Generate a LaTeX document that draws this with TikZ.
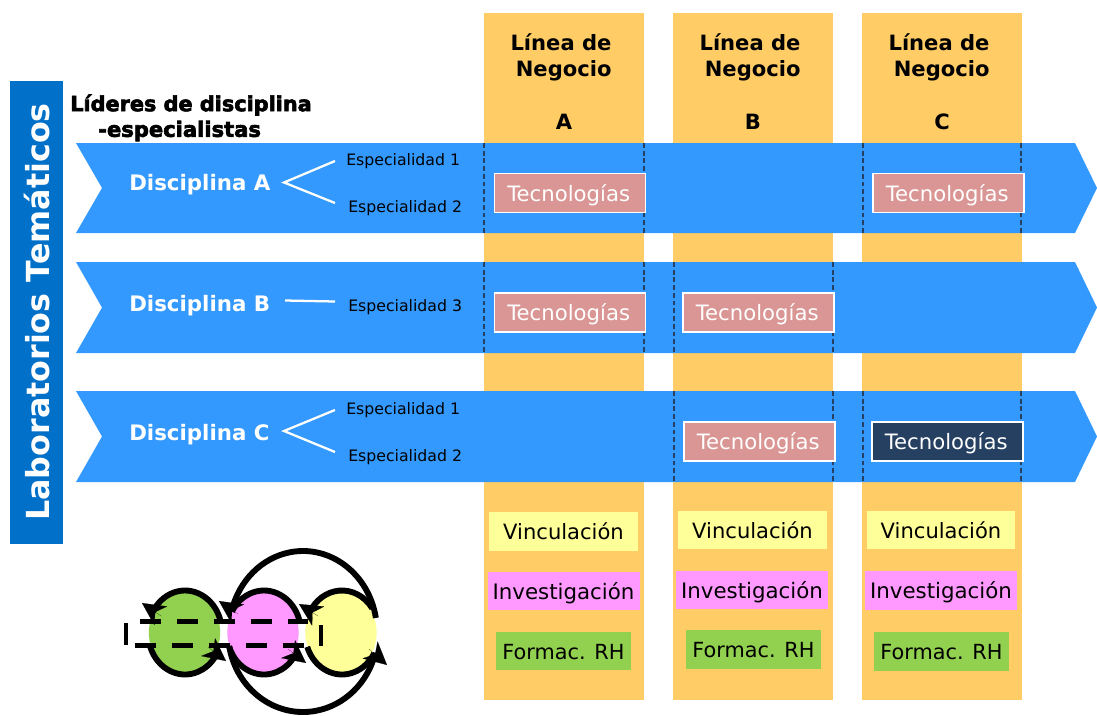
\documentclass[tikz,border=0pt]{standalone}
\usepackage{fontspec}
\setmainfont{DejaVu Sans}
\newfontfamily\heavyfont[FakeBold=3]{DejaVu Sans Bold}
\usetikzlibrary{arrows.meta,shapes.geometric}
\definecolor{orangecol}{HTML}{FFCC66}
\definecolor{bluearrow}{HTML}{3399FF}
\definecolor{bandblue}{HTML}{0070C8}
\definecolor{rosebox}{HTML}{D99694}
\definecolor{navybox}{HTML}{254061}
\definecolor{yellowbox}{HTML}{FFFF99}
\definecolor{magentabox}{HTML}{FF99FF}
\definecolor{greenbox}{HTML}{92D050}
\newcommand{\ptfont}[1]{\fontsize{#1}{#1}\selectfont}
\tikzset{
  x=0.75pt,y=-0.75pt,
  column/.style={fill=orangecol,draw=none,inner sep=0,outer sep=0,anchor=north west,minimum width=120pt,minimum height=515.25pt},
  rowarrow/.style={fill=bluearrow,draw=none},
  edge/.style={draw=navybox,line width=0.9pt,dash pattern=on 3.6pt off 2.2pt},
  tech/.style={draw=white,line width=1.1pt,fill=rosebox,text=white,inner sep=0,minimum width=113pt,minimum height=29.5pt,text height=14.6pt,text depth=2.6pt,font=\ptfont{15.9},execute at begin node={\hspace*{-2pt}}},
  techdark/.style={tech,fill=navybox},
  role/.style={inner sep=0,minimum width=111.5pt,minimum height=29pt,text height=14.6pt,text depth=2.6pt,font=\ptfont{15.8}},
  vinc/.style={role,fill=yellowbox},
  inve/.style={role,fill=magentabox,minimum width=114pt,font=\ptfont{16}},
  form/.style={role,fill=greenbox,minimum width=101pt,font=\ptfont{15.6}},
  coltitle/.style={inner sep=0,font=\bfseries\ptfont{15.8},align=center},
  disc/.style={inner sep=0,text=white,font=\bfseries\ptfont{16}},
  spec/.style={inner sep=0,font=\ptfont{11.8}},
  branch/.style={draw=white,line width=1.7pt},
  leaf/.style={inner sep=0,outer sep=0,minimum width=53.5pt,minimum height=61pt,ellipse,draw=none},
  loopline/.style={draw=black,line width=4.4pt},
  loophead/.style={draw=black,line width=0.1pt,-{Stealth[length=17pt,width=17pt,inset=5pt]}},
  dashline/.style={draw=black,line width=3.75pt,dash pattern=on 15.75pt off 12pt},
  stub/.style={draw=black,line width=3.6pt},
}
\begin{document}
\begin{tikzpicture}
\useasboundingbox (0,0) rectangle (1097,715);
% columns
\node[column] (colA) at (484,13) {};
\node[column] (colB) at (673,13) {};
\node[column] (colC) at (862,13) {};
\node[coltitle] (tA) at (561,57.5) {Línea de\\[3.7pt]\hspace*{4pt}Negocio};
\node[coltitle] (tB) at (750,57.5) {Línea de\\[3.7pt]\hspace*{4pt}Negocio};
\node[coltitle] (tC) at (939,57.5) {Línea de\\[3.7pt]\hspace*{4pt}Negocio};
\node[coltitle] (lA) at (564,122) {A};
\node[coltitle] (lB) at (753,122) {B};
\node[coltitle] (lC) at (942,122) {C};
% rows
\fill[rowarrow] (76,143) -- (1075,143) -- (1097,188) -- (1075,233) -- (76,233) -- (102,188) -- cycle;
\fill[rowarrow] (76,262) -- (1075,262) -- (1097,307.5) -- (1075,353) -- (76,353) -- (102,307.5) -- cycle;
\fill[rowarrow] (76,391) -- (1075,391) -- (1097,436.5) -- (1075,482) -- (76,482) -- (102,436.5) -- cycle;
% dashed column edges
\foreach \ex in {484,644,863,1021} \draw[edge] (\ex,143) -- (\ex,233);
\foreach \ex in {484,644,674,833} \draw[edge] (\ex,262) -- (\ex,353);
\foreach \ex in {674,833,863,1021} \draw[edge] (\ex,391) -- (\ex,482);
% side band
\node[fill=bandblue,inner sep=0,outer sep=0,minimum width=39.75pt,minimum height=347.25pt,anchor=north west] (band) at (10,81) {};
\node[rotate=90,inner sep=0,text=white,font=\bfseries\ptfont{23.8}] (bandtext) at (37,312) {Laboratorios Temáticos};
% heading
\node[inner sep=0,anchor=west,font=\heavyfont\ptfont{15.6}] (h1) at (70,105) {Líderes de disciplina};
\node[inner sep=0,anchor=west,font=\heavyfont\ptfont{15.8}] (h2) at (98,131) {-especialistas};
% disciplines
\node[disc,anchor=west] (dA) at (129,185) {Disciplina A};
\node[disc,anchor=west] (dB) at (129,306) {Disciplina B};
\node[disc,anchor=west] (dC) at (129,435) {Disciplina C};
\node[spec,anchor=west] (s1) at (346,161) {Especialidad 1};
\node[spec,anchor=west] (s2) at (348,208) {Especialidad 2};
\node[spec,anchor=west] (s3) at (348,307) {Especialidad 3};
\node[spec,anchor=west] (s4) at (346,410) {Especialidad 1};
\node[spec,anchor=west] (s5) at (348,457) {Especialidad 2};
\coordinate (jA) at (284,182.5);
\coordinate (jC) at (284,431);
\draw[branch] (335,161) -- (jA) -- (335,203);
\draw[branch] (335,410) -- (jC) -- (335,452);
\draw[branch] (285,300.5) -- (335,301.5);
% technologies
\node[tech] (t1) at (570,193) {Tecnologías};
\node[tech] (t2) at (948.5,193) {Tecnologías};
\node[tech] (t3) at (570,312.5) {Tecnologías};
\node[tech] (t4) at (758.5,312.5) {Tecnologías};
\node[tech] (t5) at (759.5,441.5) {Tecnologías};
\node[techdark] (t6) at (947.5,441.5) {Tecnologías};
% lower boxes
\node[vinc] (v1) at (563.5,531.5) {Vinculación};
\node[vinc] (v2) at (752.5,530) {Vinculación};
\node[vinc] (v3) at (941,530) {Vinculación};
\node[inve] (i1) at (563.5,591) {Investigación};
\node[inve] (i2) at (752,590) {Investigación};
\node[inve] (i3) at (941,590.5) {Investigación};
\node[form] (f1) at (563.5,651) {Formac. RH};
\node[form] (f2) at (753.5,649.5) {Formac. RH};
\node[form] (f3) at (941.5,651.5) {Formac. RH};
% cycle
\node[leaf,fill=greenbox] (cg) at (184.5,632.5) {};
\node[leaf,fill=magentabox] (cm) at (263,632.5) {};
\node[leaf,fill=yellowbox] (cy) at (341,632.5) {};
\draw[dashline] (140,621) -- (308,621);
\draw[dashline] (135,645) -- (304,645);
\draw[stub] (126,623) -- (126,645);
\draw[stub] (321,625) -- (321,646);
% outline arcs
\draw[loopline] (185,632.5) ++(-18:37 and 42) arc[start angle=-18,end angle=-150,x radius=37,y radius=42];
\draw[loopline] (185,632.5) ++(160:37 and 42) arc[start angle=160,end angle=35,x radius=37,y radius=42];
\draw[loopline] (264,632.5) ++(-18:37 and 42) arc[start angle=-18,end angle=-150,x radius=37,y radius=42];
\draw[loopline] (264,632.5) ++(160:37 and 42) arc[start angle=160,end angle=35,x radius=37,y radius=42];
\draw[loopline] (342,632.5) ++(-35:37 and 42) arc[start angle=-35,end angle=-150,x radius=37,y radius=42];
\draw[loopline] (342,632.5) ++(160:37 and 42) arc[start angle=160,end angle=30,x radius=37,y radius=42];
\draw[loopline] (303,632) ++(-10:74 and 81) arc[start angle=-10,end angle=-165,x radius=74,y radius=81];
\draw[loopline] (303,632) ++(170:75 and 80) arc[start angle=170,end angle=15,x radius=75,y radius=80];
% heads
\draw[loophead] (161,616) -- (142,603);
\draw[loophead] (208,647) -- (226,661);
\draw[loophead] (238,614) -- (219,601);
\draw[loophead] (318,616) -- (299,604);
\draw[loophead] (288,649) -- (306,663);
\draw[loophead] (369,649) -- (387,665);
\end{tikzpicture}
\end{document}
